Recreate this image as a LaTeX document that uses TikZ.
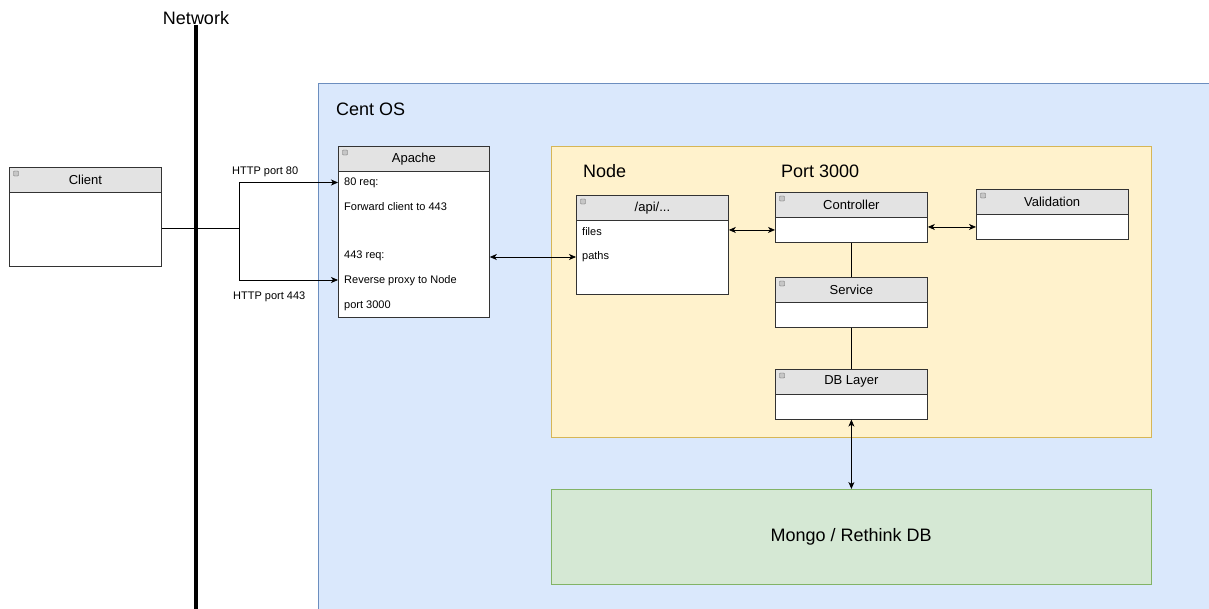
\documentclass[tikz,border=0pt]{standalone}
\usepackage{fontspec}
\setmainfont{Liberation Sans}
\usetikzlibrary{arrows.meta,calc}
\definecolor{OsFill}{HTML}{DAE8FC}
\definecolor{OsLine}{HTML}{6C8EBF}
\definecolor{AppFill}{HTML}{FFF2CC}
\definecolor{AppLine}{HTML}{D6B656}
\definecolor{DbFill}{HTML}{D5E8D4}
\definecolor{DbLine}{HTML}{82B366}
\definecolor{HeadFill}{HTML}{E3E3E3}
\definecolor{BoxLine}{HTML}{333333}

% name, x, y (top), width, body height, title
\newcommand{\umlbox}[6]{%
  \node[umlhead, minimum width=#4pt, anchor=north west] (#1-h) at (#2,#3) {#6};
  \node[umlbody, minimum width=#4pt, minimum height=#5pt, anchor=north] (#1) at (#1-h.south) {};
  \draw[umlicon] ([shift={(4.5,4)}]#1-h.north west) rectangle +(5,5);
}

\begin{document}
\begin{tikzpicture}[x=1pt,y=-1pt,
  >={Stealth[length=7pt,width=6pt,inset=2pt]},
  umlhead/.style={draw=BoxLine,fill=HeadFill,line width=0.8pt,inner sep=0pt,
    minimum height=24.5pt,font=\fontsize{13}{15}\selectfont},
  umlbody/.style={draw=BoxLine,fill=white,line width=0.8pt,inner sep=0pt},
  umlicon/.style={draw=gray!80!black,fill=gray!45,line width=0.4pt,rounded corners=0.8pt},
  bodytxt/.style={anchor=west,inner sep=0pt,font=\fontsize{11}{13}\selectfont},
  bigtxt/.style={inner sep=0pt,font=\fontsize{18}{21}\selectfont},
  area/.style={anchor=north west,inner sep=0pt,line width=0.8pt},
  conn/.style={line width=0.8pt},
  netline/.style={line width=4.5pt}]
\useasboundingbox (0,0) rectangle (1209,608);
\clip (0,0) rectangle (1209,608);

% areas
\node[area,draw=OsLine,fill=OsFill,minimum width=900pt,minimum height=540pt] (centos) at (318,83) {};
\node[bigtxt,anchor=west] (centoslbl) at (336,109) {Cent OS};
\node[area,draw=AppLine,fill=AppFill,minimum width=600pt,minimum height=290.5pt] (nodeapp) at (551,146) {};
\node[bigtxt,anchor=west] (nodelbl) at (583,171) {Node};
\node[bigtxt,anchor=west] (portlbl) at (781,171) {Port 3000};
\node[area,draw=DbLine,fill=DbFill,minimum width=599.5pt,minimum height=95pt,
  font=\fontsize{18}{21}\selectfont] (mongo) at (551,489) {Mongo / Rethink DB};

% network
\node[bigtxt,anchor=south] (net) at (196,25) {Network};
\coordinate (netend) at (196,610);
\draw[netline] (net.south) -- (netend);

% boxes
\umlbox{client}{9}{167}{152}{74}{Client}
\umlbox{apache}{338}{146}{151}{146}{Apache}
\umlbox{api}{576}{195}{152}{74}{/api/...}
\umlbox{ctrl}{775}{192}{152}{24.5}{Controller}
\umlbox{valid}{976}{189}{151.5}{24.5}{Validation}
\umlbox{svc}{775}{277}{152}{24.5}{Service}
\umlbox{dbl}{775}{369}{152}{24.5}{DB Layer}

% box texts
\node[bodytxt] (ap1) at (344,183) {80 req:};
\node[bodytxt] (ap2) at (344,207) {Forward client to 443};
\node[bodytxt] (ap3) at (344,256) {443 req:};
\node[bodytxt] (ap4) at (344,281) {Reverse proxy to Node};
\node[bodytxt] (ap5) at (344,306) {port 3000};
\node[bodytxt] (apifiles) at (582,232) {files};
\node[bodytxt] (apipaths) at (582,257) {paths};

% client to apache
\coordinate (split) at (239,228);
\draw[conn] (client.east |- split) -- (split);
\draw[conn,->] (split) |- (apache.west |- 0,182.5);
\draw[conn,->] (split) |- (apache.west |- 0,280);
\node[bodytxt] (http80) at (232,172) {HTTP port 80};
\node[bodytxt] (http443) at (233,297) {HTTP port 443};

% inside
\draw[conn,<->] (apache.east |- apipaths) -- (api.west |- apipaths);
\draw[conn,<->] (api.east |- ctrl.west) -- (ctrl.west);
\draw[conn,<->] (ctrl.east |- valid.west) -- (valid.west);
\draw[conn] (ctrl.south) -- (svc-h.north);
\draw[conn] (svc.south) -- (dbl-h.north);
\draw[conn,<->] (dbl.south) -- (dbl.south |- mongo.north);

\end{tikzpicture}
\end{document}
